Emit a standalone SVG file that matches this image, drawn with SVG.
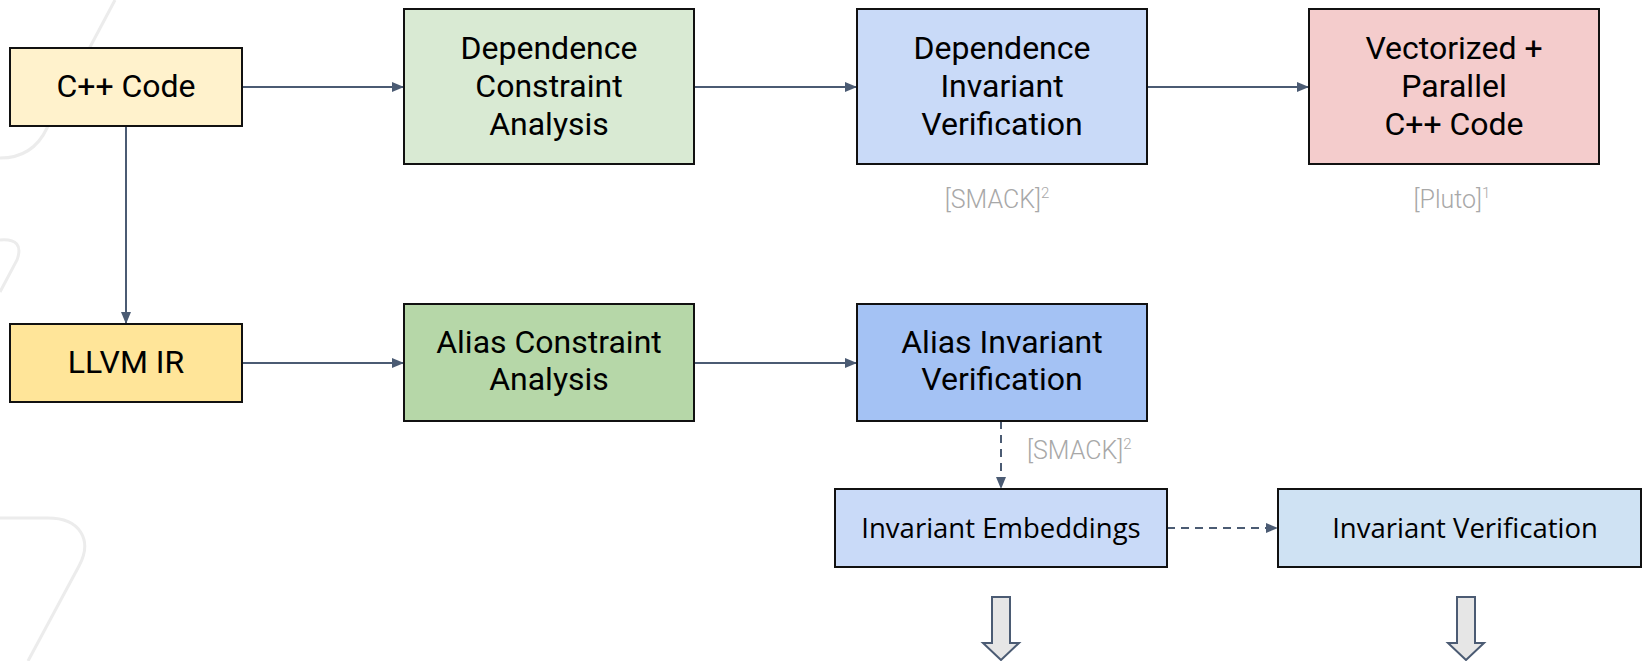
<svg xmlns="http://www.w3.org/2000/svg" width="1643" height="661" viewBox="0 0 1643 661">
<style>
.box{stroke:#111;stroke-width:2}
.t{font-family:Roboto,"Liberation Sans",sans-serif;font-size:32px;fill:#000;text-anchor:middle}
.t2{font-family:"Open Sans","Noto Sans",sans-serif;font-size:27.5px;fill:#000;text-anchor:middle}
.lbl{font-family:Roboto,"Liberation Sans",sans-serif;font-size:25px;font-weight:300;fill:#a8a8a8}
.sup{font-size:15px}
.c{stroke:#4b5b73;stroke-width:2;fill:none}
.d{stroke-dasharray:8 6}
.deco{stroke:#ececec;stroke-width:3;fill:none}
.blk{fill:#e6e6e6;stroke:#4b5b73;stroke-width:2;stroke-linejoin:miter}
</style>
<defs>
<marker id="ah" markerUnits="userSpaceOnUse" markerWidth="12" markerHeight="10" refX="12" refY="5" orient="auto">
<path d="M0,0 L12,5 L0,10 z" fill="#4b5b73"/>
</marker>
</defs>
<rect width="1643" height="661" fill="#ffffff"/>
<g id="decoration">
<path class="deco" d="M115,0 L47,128 Q33,158 0,158"/>
<path class="deco" d="M0,240 Q25,238 17,260 L0,292"/>
<path class="deco" d="M0,518 L48,518 C80,518 93,540 79,566 L28,661"/>
</g>
<g id="connectors">
<line class="c" x1="242" y1="87" x2="404" y2="87" marker-end="url(#ah)"/>
<line class="c" x1="694" y1="87" x2="857" y2="87" marker-end="url(#ah)"/>
<line class="c" x1="1147" y1="87" x2="1309" y2="87" marker-end="url(#ah)"/>
<line class="c" x1="126" y1="126" x2="126" y2="324" marker-end="url(#ah)"/>
<line class="c" x1="242" y1="363" x2="404" y2="363" marker-end="url(#ah)"/>
<line class="c" x1="694" y1="363" x2="857" y2="363" marker-end="url(#ah)"/>
<line class="c d" x1="1001" y1="421" x2="1001" y2="489" marker-end="url(#ah)"/>
<line class="c d" x1="1167" y1="528" x2="1278" y2="528" marker-end="url(#ah)"/>
<polygon class="blk" points="992,597 1010,597 1010,643 1019,643 1001,660 983,643 992,643"/>
<polygon class="blk" points="1457,597 1475,597 1475,643 1484,643 1466,660 1448,643 1457,643"/>
</g>
<g id="cpp">
<rect class="box" x="10" y="48" width="232" height="78" fill="#fff2cc"/>
<text class="t" x="126" y="97">C++ Code</text>
</g>
<g id="llvm">
<rect class="box" x="10" y="324" width="232" height="78" fill="#ffe599"/>
<text class="t" x="126" y="373">LLVM IR</text>
</g>
<g id="dep-constraint">
<rect class="box" x="404" y="9" width="290" height="155" fill="#d9ead3"/>
<text class="t" x="549" y="59">Dependence</text>
<text class="t" x="549" y="97">Constraint</text>
<text class="t" x="549" y="135">Analysis</text>
</g>
<g id="dep-invariant">
<rect class="box" x="857" y="9" width="290" height="155" fill="#c9daf8"/>
<text class="t" x="1002" y="59">Dependence</text>
<text class="t" x="1002" y="97">Invariant</text>
<text class="t" x="1002" y="135">Verification</text>
<text class="lbl" x="997" y="208" text-anchor="middle">[SMACK]<tspan class="sup" dy="-10">2</tspan></text>
</g>
<g id="vectorized">
<rect class="box" x="1309" y="9" width="290" height="155" fill="#f4cccc"/>
<text class="t" x="1454" y="59">Vectorized +</text>
<text class="t" x="1454" y="97">Parallel</text>
<text class="t" x="1454" y="135">C++ Code</text>
<text class="lbl" x="1452" y="208" text-anchor="middle">[Pluto]<tspan class="sup" dy="-10">1</tspan></text>
</g>
<g id="alias-constraint">
<rect class="box" x="404" y="304" width="290" height="117" fill="#b6d7a8"/>
<text class="t" x="549" y="353">Alias Constraint</text>
<text class="t" x="549" y="390">Analysis</text>
</g>
<g id="alias-invariant">
<rect class="box" x="857" y="304" width="290" height="117" fill="#a4c2f4"/>
<text class="t" x="1002" y="353">Alias Invariant</text>
<text class="t" x="1002" y="390">Verification</text>
<text class="lbl" x="1027" y="459">[SMACK]<tspan class="sup" dy="-10">2</tspan></text>
</g>
<g id="inv-embeddings">
<rect class="box" x="835" y="489" width="332" height="78" fill="#c9daf8"/>
<text class="t2" x="1001" y="538">Invariant Embeddings</text>
</g>
<g id="inv-verification">
<rect class="box" x="1278" y="489" width="363" height="78" fill="#cfe2f3"/>
<text class="t2" x="1465" y="538">Invariant Verification</text>
</g>
</svg>
